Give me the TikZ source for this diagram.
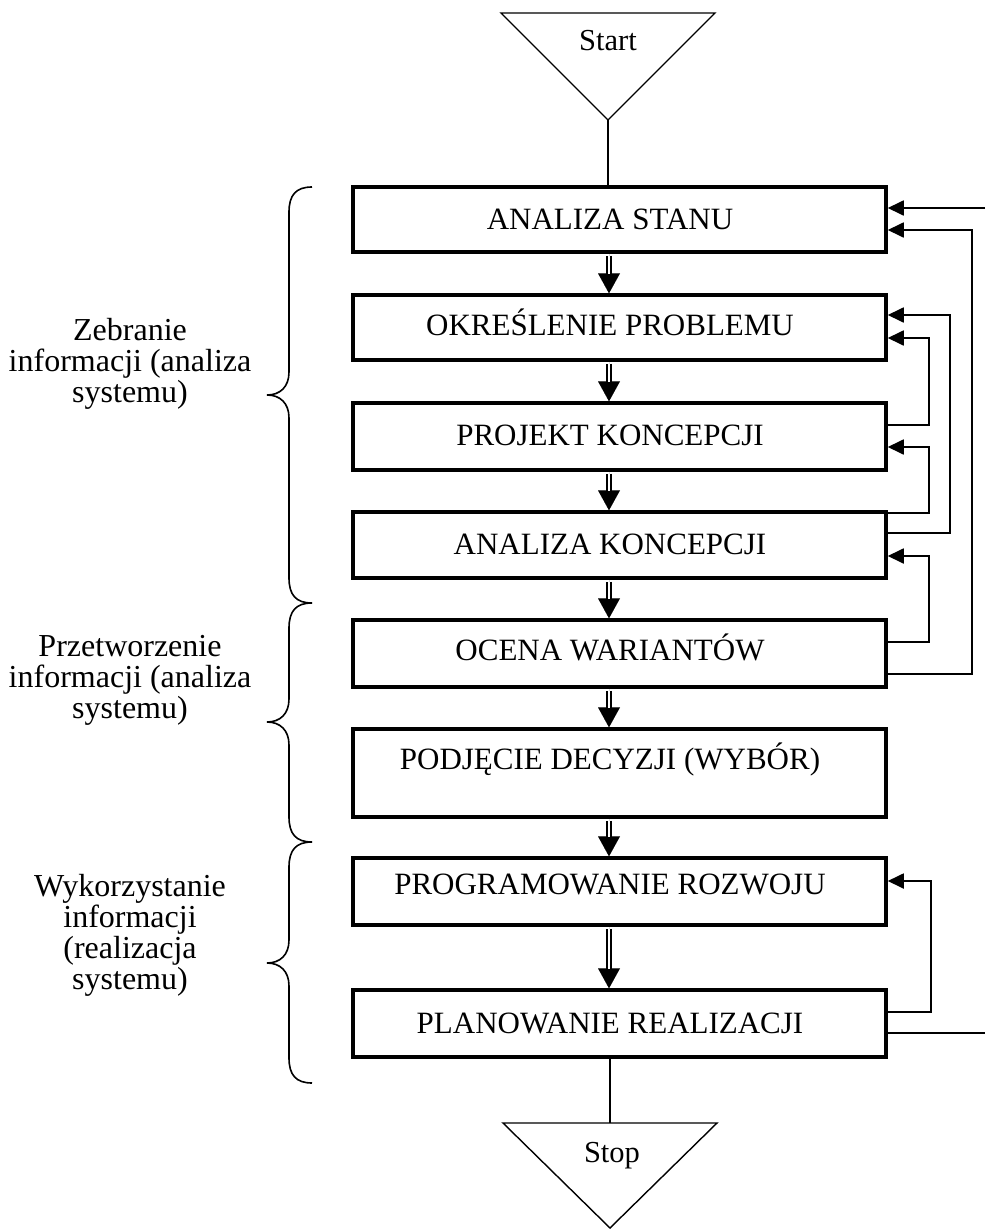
\documentclass[tikz,border=0pt]{standalone}
\usepackage{fontspec}
\setmainfont{Liberation Serif}
\usetikzlibrary{arrows.meta,calc}
% curly brace opening to the right: x of the ends, y of top, tip and bottom
\newcommand\leftbrace[3]{%
  \draw[brace] (312,#1) .. controls (296,#1) and (289,#1+8) .. (289,#1+25)
    -- (289,#2-23) .. controls (289,#2-8) and (280,#2) .. (267,#2)
    .. controls (280,#2) and (289,#2+8) .. (289,#2+23)
    -- (289,#3-25) .. controls (289,#3-8) and (296,#3) .. (312,#3);}
\begin{document}
\begin{tikzpicture}[x=1pt,y=-1pt,
  box/.style={draw, line width=3.5pt, minimum width=533pt, inner sep=0pt},
  txt/.style={font=\fontsize{31}{32}\selectfont, inner sep=0pt, anchor=base},
  term text/.style={font=\fontsize{30.5}{32}\selectfont, inner sep=0pt, anchor=base},
  side/.style={font=\fontsize{32}{31}\selectfont, align=center, inner sep=0pt},
  fb/.style={line width=1.8pt, -{Triangle[length=16pt,width=15pt]}},
  plain/.style={line width=1.8pt},
  shaft/.style={double, double distance=2.2pt, line width=1.6pt,
                shorten >=19pt, shorten <=2pt},
  head/.style={line width=0.01pt, -{Triangle[length=20pt,width=22pt]}},
  brace/.style={line width=1.6pt},
  term/.style={line width=1.4pt, line join=miter}]
\useasboundingbox[fill=white] (0,0) rectangle (985,1231);

% process boxes
\node[box, minimum height=65pt] (b1) at (619.5,219.5) {};
\node[box, minimum height=65pt] (b2) at (619.5,327.5) {};
\node[box, minimum height=67pt] (b3) at (619.5,436.5) {};
\node[box, minimum height=66pt] (b4) at (619.5,545) {};
\node[box, minimum height=67pt] (b5) at (619.5,653.5) {};
\node[box, minimum height=88pt] (b6) at (619.5,773) {};
\node[box, minimum height=67pt] (b7) at (619.5,891.5) {};
\node[box, minimum height=67pt] (b8) at (619.5,1023.5) {};

% box captions
\node[txt] (t1) at (610,229) {ANALIZA STANU};
\node[txt] (t2) at (610,335) {OKREŚLENIE PROBLEMU};
\node[txt] (t3) at (610,445) {PROJEKT KONCEPCJI};
\node[txt] (t4) at (610,554) {ANALIZA KONCEPCJI};
\node[txt] (t5) at (610,660) {OCENA WARIANTÓW};
\node[txt] (t6) at (610,769) {PODJĘCIE DECYZJI (WYBÓR)};
\node[txt] (t7) at (610,894) {PROGRAMOWANIE ROZWOJU};
\node[txt] (t8) at (610,1033) {PLANOWANIE REALIZACJI};

% start and stop terminals
\coordinate (sa) at (608,120);
\draw[term] (501,13) -- (715,13) -- (sa) -- cycle;
\node[term text] (start) at (608,51) {Start};
\coordinate (so) at (610,1123);
\draw[term] (503,1123) -- (717,1123) -- (610,1228) -- cycle;
\node[term text] (stop) at (612,1162) {Stop};
\draw[line width=1.4pt] (sa) -- (sa |- b1.north);
\draw[line width=1.4pt] (b8.south -| so) -- (so);

% main flow: double arrows down the column
\coordinate (col) at (609,0);
\foreach \a/\b in {b1/b2,b2/b3,b3/b4,b4/b5,b5/b6,b6/b7,b7/b8}{
  \draw[head] (\a.south -| col) -- (\b.north -| col);
  \draw[shaft] (\a.south -| col) -- (\b.north -| col);
}

% feedback loops on the right
\draw[fb] (b3.east |- 0,425) -- (929,425) -- (929,338) -- (b2.east |- 0,338);
\draw[fb] (b4.east |- 0,513) -- (929,513) -- (929,447) -- (b3.east |- 0,447);
\draw[fb] (b5.east |- 0,642) -- (929,642) -- (929,556) -- (b4.east |- 0,556);
\draw[fb] (b4.east |- 0,533) -- (950,533) -- (950,315) -- (b2.east |- 0,315);
\draw[fb] (b5.east |- 0,674) -- (972,674) -- (972,230) -- (b1.east |- 0,230);
\draw[fb] (b8.east |- 0,1012) -- (931,1012) -- (931,881) -- (b7.east |- 0,881);
\coordinate (edgelow) at (985,1033);
\coordinate (edgetop) at (985,208);
\draw[plain] (b8.east |- edgelow) -- (edgelow);
\draw[fb] (edgetop) -- (b1.east |- edgetop);

% phase braces and their labels
\leftbrace{187}{395}{603}
\leftbrace{603}{722}{842}
\leftbrace{842}{963}{1083}
\node[side] (p1) at (130,364) {Zebranie\\informacji (analiza\\systemu)};
\node[side] (p2) at (130,680) {Przetworzenie\\informacji (analiza\\systemu)};
\node[side] (p3) at (130,935) {Wykorzystanie\\informacji\\(realizacja\\systemu)};
\end{tikzpicture}
\end{document}
